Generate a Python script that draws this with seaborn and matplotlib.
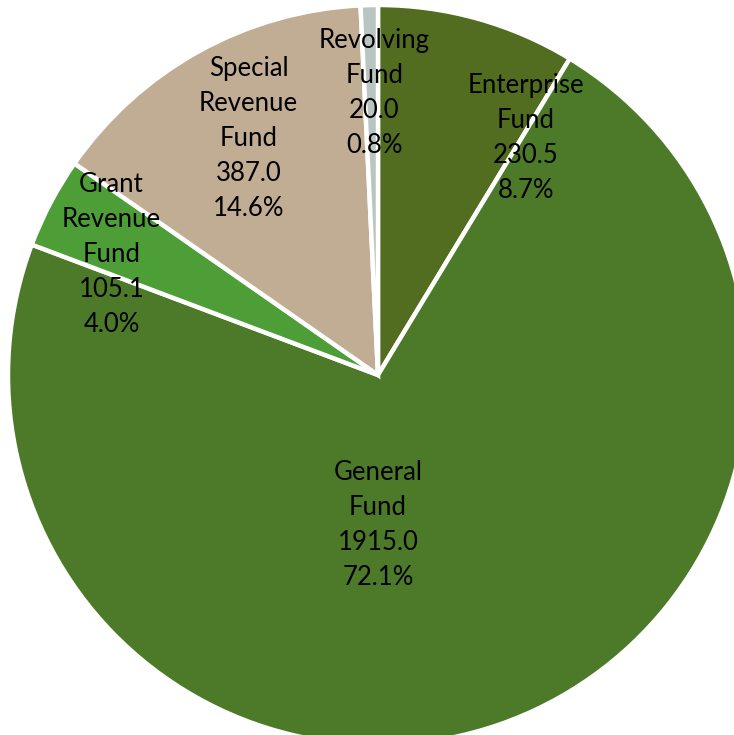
import matplotlib
matplotlib.use("Agg")
import matplotlib.pyplot as plt
import seaborn as sns

sns.set_theme(style="white")
plt.rcParams['font.family'] = ['Lato', 'DejaVu Sans']

funds = ["Enterprise\nFund", "General\nFund", "Grant\nRevenue\nFund", "Special\nRevenue\nFund", "Revolving\nFund"]
amounts = [230.5, 1915.0, 105.1, 387.0, 20.0]
percents = ["8.7%", "72.1%", "4.0%", "14.6%", "0.8%"]
colors = ["#526c20", "#4d7a29", "#4e9e38", "#c1ad93", "#b9c5c0"]
# label positions (fraction of radius, in axes data units)
label_x = [0.40, 0.0, -0.72, -0.35, -0.01]
label_y = [0.64, -0.406, 0.325, 0.64, 0.762]

fig = plt.figure(figsize=(7.34, 7.35), dpi=100)
ax = fig.add_axes([0, 0, 1, 1])
ax.pie(amounts, colors=colors, startangle=90, counterclock=False,
       radius=1.0, center=(0, 0),
       wedgeprops=dict(edgecolor="white", linewidth=3.2))
for name, amt, pct, x, y in zip(funds, amounts, percents, label_x, label_y):
    ax.text(x, y, f"{name}\n{amt:.1f}\n{pct}", ha="center", va="center",
            fontsize=18.5, color="black", linespacing=1.50)
ax.set_xlim(-378/370, (734-378)/370)
ax.set_ylim((375-735)/370, 375/370)
ax.set_aspect("equal")
ax.axis("off")
fig.savefig("out.png", dpi=100)
